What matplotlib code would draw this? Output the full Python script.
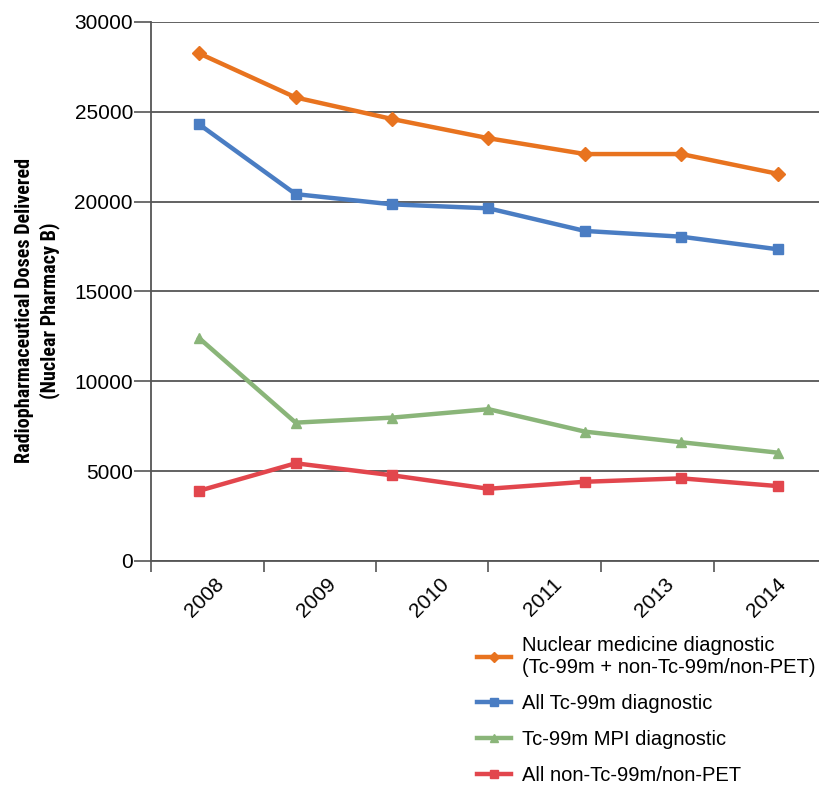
import numpy as np
import matplotlib
matplotlib.use("Agg")
import matplotlib.pyplot as plt
from matplotlib.transforms import ScaledTranslation

# values (7 points per series, 6 year labels on the axis)
years = ["2008", "2009", "2010", "2011", "2013", "2014"]
nuc_med = [28250, 25800, 24600, 23530, 22650, 22650, 21550]
all_tc = [24300, 20420, 19850, 19630, 18370, 18050, 17350]
tc_mpi = [12400, 7700, 7980, 8450, 7200, 6610, 6030]
non_tc = [3910, 5440, 4770, 4020, 4410, 4600, 4170]

labels = ["Nuclear medicine diagnostic\n(Tc-99m + non-Tc-99m/non-PET)",
          "All Tc-99m diagnostic",
          "Tc-99m MPI diagnostic",
          "All non-Tc-99m/non-PET"]
colors = ["#E8731F", "#4A7DC3", "#8AB579", "#E2464D"]
markers = ["D", "s", "^", "s"]

plt.rcParams['font.family'] = ['Liberation Sans', 'DejaVu Sans']

fig = plt.figure(figsize=(8.19, 7.85), dpi=100)
ax = fig.add_axes([151/819, 1 - 561/785, 675/819, 539/785])

series = [nuc_med, all_tc, tc_mpi, non_tc]
x = np.arange(len(nuc_med))
for vals, c, m, lab in zip(series, colors, markers, labels):
    ax.plot(x, vals, color=c, lw=3.2, marker=m, markersize=7, label=lab,
            solid_joinstyle='round', zorder=3)

ax.set_xlim(-0.5, len(x) - 0.5)
ax.set_ylim(0, 30000)
ax.set_yticks(np.arange(0, 30001, 5000))
ax.yaxis.grid(True, color="#555555", lw=1.3)
ax.set_axisbelow(True)

# tick marks split the axis into 6 year bins
n = len(years)
w = len(x) / n
edges = -0.5 + np.arange(n + 1) * w
centers = -0.5 + (np.arange(n) + 0.5) * w
ax.set_xticks(edges)
ax.set_xticklabels([])
ax.set_xticks(centers, minor=True)
ax.set_xticklabels(years, minor=True, rotation=45, ha='right',
                   rotation_mode='anchor', fontsize=15)
ax.tick_params(axis='x', which='major', length=8, width=1.2, color="#555555")
ax.tick_params(axis='x', which='minor', length=0, pad=10)
ax.tick_params(axis='y', length=12, width=1.2, color="#555555", labelsize=15, pad=1)
shift = ScaledTranslation(7/100, 0, fig.dpi_scale_trans)
for t in ax.get_xticklabels(minor=True):
    t.set_transform(t.get_transform() + shift)

for s in ['top', 'right']:
    ax.spines[s].set_visible(False)
for s in ['left', 'bottom']:
    ax.spines[s].set_color("#555555")
    ax.spines[s].set_linewidth(1.3)

ax.set_ylabel("Radiopharmaceutical Doses Delivered\n(Nuclear Pharmacy B)",
              fontsize=14.5, fontweight='bold', linespacing=1.3,
              family=['Roboto Condensed', 'Liberation Sans'])
ax.yaxis.set_label_coords(-0.135, 0.465)

fig.legend(loc='upper left', bbox_to_anchor=(459/819, 1 - 618/785),
           frameon=False, fontsize=14.5, handlelength=1.7, labelspacing=0.85,
           handletextpad=0.55, markerscale=0.75)

fig.savefig("out.png", dpi=100)
